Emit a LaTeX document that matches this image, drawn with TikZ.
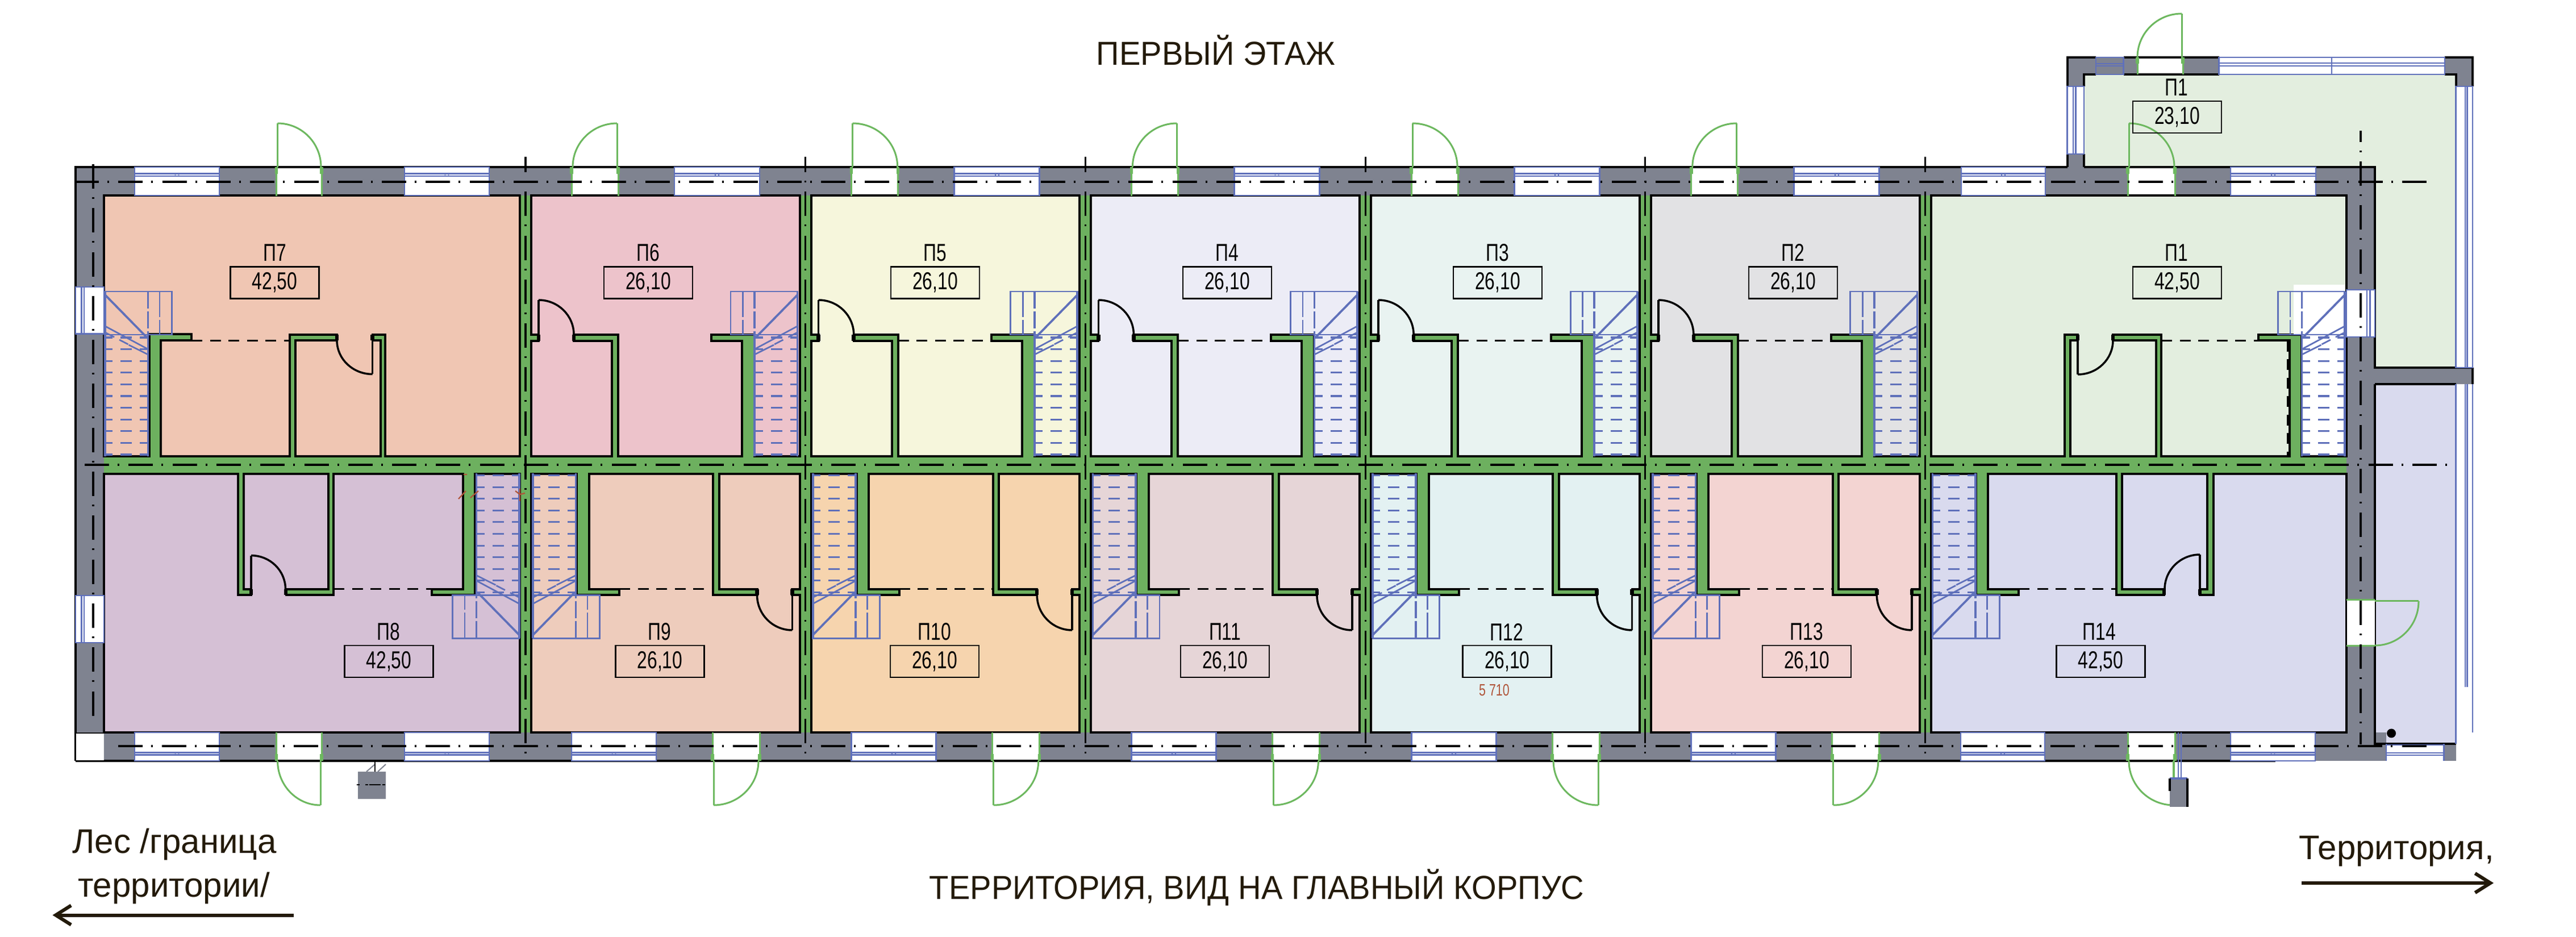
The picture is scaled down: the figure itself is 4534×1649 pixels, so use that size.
\documentclass[tikz,border=0pt]{standalone}
\usepackage{fontspec}
\usetikzlibrary{arrows.meta}
\setmainfont{Liberation Sans}
\newfontfamily\gostf[FakeStretch=0.74]{Liberation Sans}
\newfontfamily\titlef[FakeStretch=0.96]{Liberation Sans}
\newfontfamily\sidef[FakeStretch=1.0]{Liberation Sans}
\definecolor{wallgray}{HTML}{7F8390}
\definecolor{wallgreen}{HTML}{6DB05F}
\definecolor{doorgreen}{HTML}{6DB85F}
\definecolor{blueln}{HTML}{5F70BA}
\definecolor{inkdark}{HTML}{231A0A}
\definecolor{redmark}{HTML}{B0553A}
\definecolor{rP1}{HTML}{E3EEDF}\definecolor{rP2}{HTML}{E2E2E4}\definecolor{rP3}{HTML}{E9F3F1}
\definecolor{rP4}{HTML}{ECECF6}\definecolor{rP5}{HTML}{F6F6DC}\definecolor{rP6}{HTML}{EDC3CB}
\definecolor{rP7}{HTML}{F0C6B3}\definecolor{rP8}{HTML}{D5C0D5}\definecolor{rP9}{HTML}{EECCBC}
\definecolor{rP10}{HTML}{F6D4AE}\definecolor{rP11}{HTML}{E6D5D7}\definecolor{rP12}{HTML}{E3F1F2}
\definecolor{rP13}{HTML}{F3D4D2}\definecolor{rP14}{HTML}{D9DAEE}
\tikzset{
  room/.style={draw=black,line width=.8pt,line join=miter},
  blk/.style={draw=black,line width=.8pt},
  bln/.style={draw=blueln,line width=.55pt},
  blnt/.style={draw=blueln,line width=.75pt},
  tread/.style={draw=blueln,line width=.62pt,dash pattern=on 2.7pt off 2.8pt on 4pt off 2.8pt on 2.8pt off 0pt},
  partdash/.style={draw=black,line width=.6pt,dash pattern=on 3.8pt off 2.7pt},
  axisl/.style={draw=black,line width=.65pt,dash pattern=on 8.6pt off 3pt on .6pt off 3.26pt},
  dgr/.style={draw=doorgreen,line width=.6pt},
  dgrt/.style={draw=doorgreen,line width=1.1pt},
  lbl/.style={font=\fontsize{8.6pt}{9pt}\gostf,inner sep=0pt,text=black},
  valbox/.style={draw=black,line width=.55pt,minimum width=31.2pt,minimum height=11.2pt,inner sep=0pt,font=\fontsize{8.6pt}{9pt}\gostf},
  sidetxt/.style={font=\fontsize{12pt}{13pt}\sidef,text=inkdark,inner sep=0pt,anchor=base},
  titletxt/.style={font=\fontsize{11.7pt}{12pt}\titlef,text=inkdark,inner sep=0pt},
  sidearrow/.style={draw=inkdark,line width=1.2pt,-{Straight Barb[length=5.4pt,width=6.8pt,line width=1.2pt]}},
}
% quarter arc: horizontal tangent at (#2,#3), vertical tangent at (#4,#5)
\newcommand\doorarc[5][]{%
  \pgfmathsetmacro\cax{#2+0.5523*((#4)-(#2))}%
  \pgfmathsetmacro\cby{#5+0.5523*((#3)-(#5))}%
  \draw[#1] (#2,#3) .. controls (\cax,#3) and (#4,\cby) .. (#4,#5);}
% inner room door: hinge thick ends
\newcommand\hingemark[3]{\draw[line width=1.3pt,black] (#1,#2)--(#1,#3);}
% one stair flight, in the frame of an upper-row unit
\newcommand\stairflight{%
  \draw[bln] (361,513) rectangle (478.6,589);
  \draw[bln,dash pattern=on 9pt off 1pt] (382.6,513)--(382.6,589);
  \draw[blnt,dash pattern=on 6pt off 1pt] (403,513)--(403,589);
  \draw[blnt] (405,594)--(478.6,519);
  \draw[bln] (403,614.6)--(478.6,574);
  \draw[bln] (403,624)--(437,607);
  \draw[bln,dash pattern=on 3.5pt off 2pt] (438,606)--(478.6,585);
  \draw[blnt] (403,589)--(403,803);
  \draw[blnt] (478.6,513)--(478.6,803);
  \foreach \ty in {594,614.6,635.2,655.8,676.4,697,717.6,738.2,758.8,779.4,800}
    \draw[tread] (404,\ty)--(478.6,\ty);
}
\newcommand\wintop[2]{%
  \fill[white] (#1,294) rectangle (#2,344);
  \draw[bln] (#1,294) rectangle (#2,344);
  \draw[bln] (#1,305.7)--(#2,305.7) (#1,310)--(#2,310);
  \draw[bln,line width=.35pt] ({(#1+#2)/2-3},305.7)--({(#1+#2)/2-3},310) ({(#1+#2)/2+3},305.7)--({(#1+#2)/2+3},310);}
\newcommand\winbot[2]{%
  \fill[white] (#1,1289) rectangle (#2,1339);
  \draw[bln] (#1,1289) rectangle (#2,1339);
  \draw[bln] (#1,1324.5)--(#2,1324.5) (#1,1328.6)--(#2,1328.6);
  \draw[bln,line width=.35pt] ({(#1+#2)/2-3},1324.5)--({(#1+#2)/2-3},1328.6) ({(#1+#2)/2+3},1324.5)--({(#1+#2)/2+3},1328.6);}
\newcommand\wincol[4]{% x1,x2,y1,y2 with lines at #1+10.5,+15
  \fill[white] (#1,#3) rectangle (#2,#4);
  \draw[bln] (#1,#3) rectangle (#2,#4);
  \draw[bln] ({#1+10.5},#3)--({#1+10.5},#4) ({#1+15},#3)--({#1+15},#4);}
\newcommand\openingtop[2]{%
  \fill[white] (#1,294) rectangle (#2,342.5);
  \draw[blk] (#1,294)--(#2,294);
  \draw[dgr] (#1,294)--(#1,345) (#2,294)--(#2,345);
  \draw[dgrt] (#1,294)--(#1,306) (#2,294)--(#2,306);}
\newcommand\openingbot[2]{%
  \fill[white] (#1,1290.5) rectangle (#2,1339);
  \draw[blk] (#1,1339)--(#2,1339);
  \draw[dgr] (#1,1289)--(#1,1339) (#2,1289)--(#2,1339);
  \draw[dgrt] (#1,1327)--(#1,1339) (#2,1327)--(#2,1339);}
\newcommand\doortopL[2]{\openingtop{#1}{#2}\draw[dgr] ({#1+2},294)--({#1+2},217);\doorarc[dgr]{#1+2}{217}{#2-1}{294}}
\newcommand\doortopR[2]{\openingtop{#1}{#2}\draw[dgr] ({#2-2},294)--({#2-2},217);\doorarc[dgr]{#2-2}{217}{#1+2}{294}}
\newcommand\doorbotL[2]{\openingbot{#1}{#2}\draw[dgr] ({#1+2},1339)--({#1+2},1417);\doorarc[dgr]{#1+2}{1417}{#2-2}{1339}}
\newcommand\doorbotR[2]{\openingbot{#1}{#2}\draw[dgr] ({#2-2},1339)--({#2-2},1417);\doorarc[dgr]{#2-2}{1417}{#1+2}{1339}}
\begin{document}
\begin{tikzpicture}[x=0.2pt,y=-0.2pt]
\useasboundingbox (0,0) rectangle (4534,1649);
\fill[white] (0,0) rectangle (4534,1649);

% ---- annex floors
\fill[rP1] (3668,131) rectangle (4322.5,294);
\fill[rP1] (4180,294) rectangle (4322.5,647);
\fill[rP14] (4180,676) rectangle (4322.5,1309);

% ---- exterior walls, grey
\fill[wallgray] (133,294) rectangle (4180,344);
\fill[wallgray] (133,294) rectangle (183,1290);
\fill[wallgray] (4130,294) rectangle (4180,1339);
\fill[wallgray] (183,1289) rectangle (4200,1339);
\fill[wallgray] (4301.5,1309) rectangle (4322.5,1339);
\fill[wallgray] (3638.5,101) rectangle (3668,294);
\fill[wallgray] (3668,101) rectangle (3905.7,131);
\fill[wallgray] (4303,101) rectangle (4352,131);
\fill[wallgray] (4322.5,131) rectangle (4352,152);
\fill[wallgray] (4180,647) rectangle (4352,676);

% ---- corridor and party walls, green
\fill[wallgreen] (183,344) rectangle (4130,1289);

% ---- rooms
\draw[room,fill=rP7] (183,344)--(183,803)--(263,803)--(263,588.5)--(337,588.5)--(337,599.5)--(282.5,599.5)--(282.5,803)--(510,803)--(510,589)--(593,589)--(593,599.5)--(520,599.5)--(520,803)--(669.6,803)--(669.6,599.5)--(655.6,599.5)--(655.6,589)--(678,589)--(678,803)--(915,803)--(915,344)--cycle;
\draw[room,fill=rP8] (183,834)--(419,834)--(419,1047.5)--(442,1047.5)--(442,1037)--(428.6,1037)--(428.6,834)--(578,834)--(578,1037)--(504,1037)--(504,1047.5)--(587.4,1047.5)--(587.4,834)--(815,834)--(815,1037)--(760,1037)--(760,1047.5)--(835.5,1047.5)--(835.5,834)--(915,834)--(915,1289)--(183,1289)--cycle;
\foreach \w/\c in {925/rP6,1417.7/rP5,1910.4/rP4,2403.1/rP3,2895.8/rP2}{
  \begin{scope}[shift={(\w,0)}]
    \draw[room,fill=\c] (10,344)--(10,589)--(23,589)--(23,600)--(10,600)--(10,803)--(152,803)--(152,600)--(85,600)--(85,589)--(163,589)--(163,803)--(381,803)--(381,600)--(327,600)--(327,589)--(403,589)--(403,803)--(482.7,803)--(482.7,344)--cycle;
    \stairflight
    \draw[black,line width=.7pt] (23,600)--(23,528);
    \doorarc[black,line width=.7pt]{23}{528}{85}{589}
    \hingemark{23}{589}{600}\hingemark{85}{589}{600}
  \end{scope}}
\foreach \w/\c in {925/rP9,1417.7/rP10,1910.4/rP11,2403.1/rP12,2895.8/rP13}{
  \begin{scope}[shift={(\w,0)}]
    \draw[room,fill=\c] (10,834)--(90,834)--(90,1047.5)--(165,1047.5)--(165,1037)--(111.6,1037)--(111.6,834)--(330,834)--(330,1047.5)--(407.5,1047.5)--(407.5,1037)--(340.5,1037)--(340.5,834)--(482.7,834)--(482.7,1037)--(469.4,1037)--(469.4,1047.5)--(482.7,1047.5)--(482.7,1289)--(10,1289)--cycle;
    \begin{scope}[shift={(491.6,1636.5)},xscale=-1,yscale=-1]\stairflight\end{scope}
    \draw[black,line width=.7pt] (469.4,1037)--(469.4,1109);
    \doorarc[black,line width=.7pt]{469.4}{1109}{407.5}{1047}
    \hingemark{469.4}{1037}{1047.5}\hingemark{407.5}{1037}{1047.5}
    \draw[partdash] (165,1037)--(330,1037);
  \end{scope}}
\draw[room,fill=rP1] (3398.5,344)--(3398.5,803)--(3634,803)--(3634,589)--(3657,589)--(3657,599.5)--(3644,599.5)--(3644,803)--(3795,803)--(3795,599.5)--(3719,599.5)--(3719,589)--(3804,589)--(3804,803)--(4030,803)--(4030,599.5)--(3975,599.5)--(3975,589)--(4051,589)--(4051,803)--(4130,803)--(4130,344)--cycle;
\draw[room,fill=rP14] (3398.5,834)--(3478,834)--(3478,1047.5)--(3552.6,1047.5)--(3552.6,1037)--(3499,1037)--(3499,834)--(3725,834)--(3725,1047.5)--(3809,1047.5)--(3809,1037)--(3735,1037)--(3735,834)--(3885,834)--(3885,1037)--(3872,1037)--(3872,1047.5)--(3896,1047.5)--(3896,834)--(4130,834)--(4130,1289)--(3398.5,1289)--cycle;

% dashed openings of the upper row
\foreach \w in {1417.7,1910.4,2403.1,2895.8}{\draw[partdash] ({\w+163},600)--({\w+327},600);}
\draw[partdash] (337,599.5)--(510,599.5);
\draw[partdash] (587.4,1037)--(760,1037);
\draw[partdash] (3804,599.5)--(3975,599.5);
\draw[partdash] (4026,600)--(4026,803);
\draw[partdash] (3553,1037)--(3725,1037);

% stairs of the special units
\begin{scope}[shift={(663.6,0)},xscale=-1]\stairflight\end{scope}
\begin{scope}[shift={(435.4,1636.5)},yscale=-1]\stairflight\end{scope}
\fill[white] (4037,501) rectangle (4127,588);
\fill[white] (4052.5,588) rectangle (4128,801);
\begin{scope}[shift={(3648.4,0)}]\stairflight\end{scope}
\begin{scope}[shift={(3388.5,0)}]\begin{scope}[shift={(491.6,1636.5)},xscale=-1,yscale=-1]\stairflight\end{scope}\end{scope}

% interior doors of the special units
\draw[black,line width=.7pt] (655.6,589)--(655.6,658.5);
\doorarc[black,line width=.7pt]{655.6}{658.5}{593}{599}
\hingemark{655.6}{589}{599.5}\hingemark{593}{589}{599.5}
\draw[black,line width=.7pt] (442,1047)--(442,977.6);
\doorarc[black,line width=.7pt]{442}{977.6}{502.5}{1037}
\hingemark{442}{1037}{1047.5}\hingemark{503}{1037}{1047.5}
\draw[black,line width=.7pt] (3657,589)--(3657,659);
\doorarc[black,line width=.7pt]{3657}{659}{3719}{599}
\hingemark{3657}{589}{599.5}\hingemark{3719}{589}{599.5}
\draw[black,line width=.7pt] (3872,1047)--(3872,976);
\doorarc[black,line width=.7pt]{3872}{976}{3810}{1037}
\hingemark{3872}{1037}{1047.5}\hingemark{3809}{1037}{1047.5}

% ---- exterior outlines
\draw[blk] (133,1339)--(133,294)--(3638.5,294);
\draw[blk] (3668,294)--(4180,294)--(4180,647)--(4352,647);
\draw[blk] (4180,676)--(4180,1309)--(4322.5,1309);
\draw[blk] (4180,676)--(4322.5,676);
\draw[blk] (4352,647)--(4352,676);
\draw[blk] (133,1339)--(4005,1339);
\draw[blk] (3668,294)--(3668,271) (3668,152)--(3668,131)--(3689,131) (3737.5,131)--(3905.7,131);
\draw[blk] (3638.5,294)--(3638.5,101)--(3689,101) (3737.5,101)--(3905.7,101);
\draw[blk] (4303,101)--(4352,101)--(4352,152) (4303,131)--(4322.5,131)--(4322.5,152);
\fill[white] (134,1291) rectangle (183,1338);
\draw[blk,line width=.4pt] (133,1290)--(183,1290);

% ---- annex glazing
\wincol{3638.5}{3668}{152}{271}
\draw[bln] (3689,101) rectangle (3737.5,131);
\draw[bln] (3689,112)--(3737.5,112) (3689,116)--(3737.5,116);
\fill[white] (3905.7,101) rectangle (4303,131);
\draw[bln] (3905.7,101) rectangle (4303,131) (4104,101)--(4104,131);
\draw[bln] (3905.7,111)--(4303,111) (3905.7,116)--(4303,116);
\fill[white] (4322.5,152) rectangle (4352,647);
\draw[bln] (4322.5,152) rectangle (4352,647);
\draw[bln] (4339,152)--(4339,647) (4342.5,152)--(4342.5,647);
\draw[bln] (4322.5,676)--(4322.5,1309) (4352,676)--(4352,1289);
\draw[bln] (4339,676)--(4339,1209) (4342.5,676)--(4342.5,1209);

% ---- windows, long walls
\wintop{237}{386}\wintop{712}{861}
\foreach \w in {925,1417.7,1910.4,2403.1,2895.8}{\wintop{\w+262}{\w+412}}
\wintop{3452}{3600}\wintop{3926}{4076}
\winbot{237}{386}\winbot{712}{861}
\foreach \w in {925,1417.7,1910.4,2403.1,2895.8}{\winbot{\w+81}{\w+230}}
\winbot{3451}{3599}\winbot{3926}{4075}
% ---- windows, end walls
\wincol{133}{183}{505}{587.5}
\wincol{133}{183}{1048}{1131}
\fill[white] (4130,510) rectangle (4180,593);
\draw[bln] (4130,510) rectangle (4180,593);
\draw[bln] (4166,510)--(4166,593) (4171.5,510)--(4171.5,593);
% south-east end
\fill[white] (4200,1311) rectangle (4301.5,1339);
\draw[bln] (4200,1309)--(4200,1339) (4301.5,1309)--(4301.5,1339) (4200,1311)--(4301.5,1311);
\draw[bln] (4200,1325)--(4301.5,1325) (4200,1329)--(4301.5,1329);

% ---- exterior doors
\doortopL{486.6}{566}
\doortopR{925+81}{925+163}
\doortopL{1417.7+81}{1417.7+163}
\doortopR{1910.4+81}{1910.4+163}
\doortopL{2403.1+81}{2403.1+163}
\doortopR{2895.8+81}{2895.8+163}
\doortopL{3745}{3828}
\doorbotR{486.6}{566}
\doorbotL{925+329}{925+412}
\doorbotL{1417.7+329}{1417.7+412}
\doorbotL{1910.4+329}{1910.4+412}
\doorbotR{2403.1+329}{2403.1+412}
\doorbotL{2895.8+329}{2895.8+412}
\doorbotR{3745}{3828}
% annex door
\fill[white] (3760.5,101) rectangle (3842,129.5);
\draw[blk] (3760.5,101)--(3842,101);
\draw[dgr] (3762,101)--(3762,131) (3842,101)--(3842,131);
\draw[dgrt] (3762,101)--(3762,112) (3842,101)--(3842,112);
\draw[dgr] (3840,101)--(3840,24);
\doorarc[dgr]{3840}{24}{3762}{101}
% east door
\fill[white] (4131,1054) rectangle (4180,1138);
\draw[dgr] (4130,1056)--(4180,1056) (4130,1137)--(4180,1137);
\draw[dgr] (4180,1058)--(4257,1058);
\doorarc[dgr]{4180}{1136}{4257}{1058}

% ---- columns outside
\fill[wallgray] (630,1358) rectangle (679,1406);
\draw[draw=wallgray,line width=.4pt] (645,1358)--(660,1345) (679,1345)--(665,1358);
\draw[black,line width=.55pt] (660,1339)--(660,1358);
\draw[black,line width=.4pt,dash pattern=on 1pt off 2pt] (628,1381)--(688,1381);
\draw[black,line width=.55pt] (650,1381)--(670,1381);
\draw[bln] (3834,1289)--(3834,1369) (3839,1289)--(3839,1369);
\draw[dgr] (3825,1339)--(3825,1370);
\fill[wallgray] (3819,1370) rectangle (3850,1420);
\draw[blnt] (3819,1370)--(3850,1370);
\draw[blk] (3819,1370)--(3819,1392) (3850,1370)--(3850,1420);

% ---- centre lines
\draw[axisl] (131,320)--(4277,320);
\draw[axisl] (149,818)--(4312,818);
\draw[axisl] (208,1313)--(4278,1313);
\draw[axisl] (164,289)--(164,1270);
\draw[axisl,dash phase=3.2pt] (925,276)--(925,1332);
\foreach \x in {1417.7,1910.4,2403.1,2895.8,3388.5}{\draw[axisl,dash phase=3.2pt] (\x,276)--(\x,1332);}
\draw[axisl,dash phase=4.66pt] (4155,230)--(4155,1310);

% ---- small marks
\fill[black] (4209,1290.5) ellipse [x radius=8,y radius=8];
\draw[redmark,line width=.45pt] (807,878)--(820,864) (828,876)--(842,864) (915,860)--(915,882) (915,870)--(924,868) (907,864)--(915,870) (816,835)--(822,835);

% ---- room labels
\node[lbl] (tP7) at (483.5,444.6) {П7};   \node[valbox] (aP7) at (483.5,497.5) {42,50};
\node[lbl] (tP6) at (1141,444.6) {П6};    \node[valbox] (aP6) at (1141,497.5) {26,10};
\node[lbl] (tP5) at (1646,444.6) {П5};    \node[valbox] (aP5) at (1646,497.5) {26,10};
\node[lbl] (tP4) at (2160,444.6) {П4};    \node[valbox] (aP4) at (2160,497.5) {26,10};
\node[lbl] (tP3) at (2636,444.6) {П3};    \node[valbox] (aP3) at (2636,497.5) {26,10};
\node[lbl] (tP2) at (3156,444.6) {П2};    \node[valbox] (aP2) at (3156,497.5) {26,10};
\node[lbl] (tP1) at (3831,444.6) {П1};    \node[valbox] (aP1) at (3832,497.5) {42,50};
\node[lbl] (tP1a) at (3831,154) {П1};     \node[valbox] (aP1a) at (3832,206) {23,10};
\node[lbl] (tP8) at (684,1112) {П8};      \node[valbox] (aP8) at (684.5,1164) {42,50};
\node[lbl] (tP9) at (1161,1112) {П9};     \node[valbox] (aP9) at (1161.5,1164) {26,10};
\node[lbl] (tP10) at (1645,1112) {П10};   \node[valbox] (aP10) at (1645,1164) {26,10};
\node[lbl] (tP11) at (2156,1112) {П11};   \node[valbox] (aP11) at (2156,1164) {26,10};
\node[lbl] (tP12) at (2652,1112) {П12};   \node[valbox] (aP12) at (2652.8,1164) {26,10};
\node[lbl] (tP13) at (3180,1112) {П13};   \node[valbox] (aP13) at (3180,1164) {26,10};
\node[lbl] (tP14) at (3695,1112) {П14};   \node[valbox] (aP14) at (3697.5,1164) {42,50};
\node[font=\fontsize{5.8pt}{6pt}\gostf,text=redmark,inner sep=0pt] (dim) at (2630,1215) {5 710};

% ---- titles and directions
\node[titletxt] (ttop) at (2140,88) {ПЕРВЫЙ ЭТАЖ};
\node[titletxt] (tbot) at (2212,1562) {ТЕРРИТОРИЯ, ВИД НА ГЛАВНЫЙ КОРПУС};
\node[sidetxt] (sl1) at (307,1501) {Лес /граница};
\node[sidetxt] (sl2) at (306,1578) {территории/};
\node[sidetxt] (sr1) at (4218,1512) {Территория,};
\coordinate (al1) at (517,1610.5); \coordinate (al2) at (92.5,1610.5);
\coordinate (ar1) at (4051,1554);  \coordinate (ar2) at (4389,1554);
\draw[sidearrow] (al1)--(al2);
\draw[sidearrow] (ar1)--(ar2);
\end{tikzpicture}
\end{document}
